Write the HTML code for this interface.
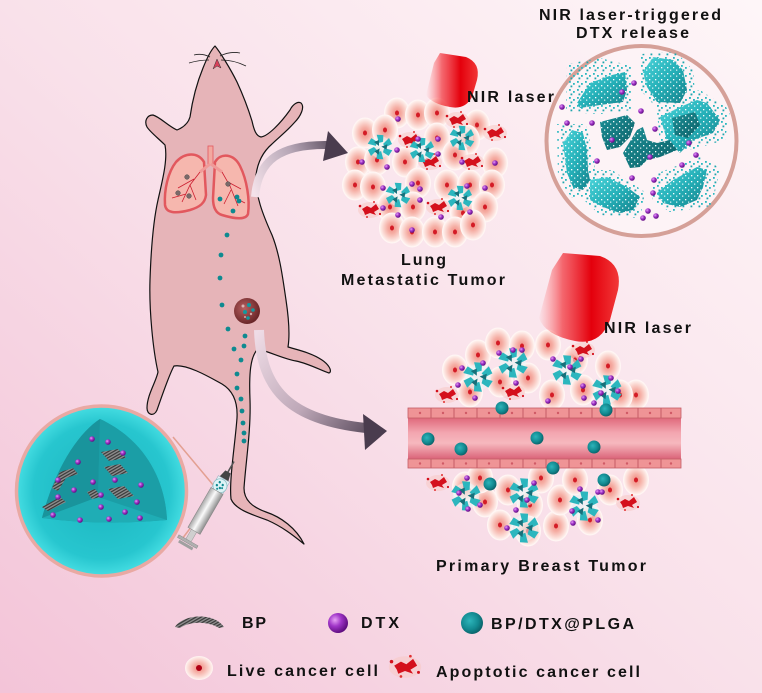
<!DOCTYPE html>
<html><head><meta charset="utf-8"><style>
html,body{margin:0;padding:0;width:762px;height:693px;overflow:hidden;background:#f8e0ea;}
svg{display:block;}
text{font-family:"Liberation Sans",Arial,sans-serif;font-weight:bold;font-size:16px;fill:#111;}
</style></head><body>
<svg width="762" height="693" viewBox="0 0 762 693" xmlns="http://www.w3.org/2000/svg" xmlns:xlink="http://www.w3.org/1999/xlink">
<defs>
 <linearGradient id="bg" x1="0" y1="1" x2="1" y2="0">
  <stop offset="0" stop-color="#f3c4d8"/>
  <stop offset="0.5" stop-color="#f9e1ea"/>
  <stop offset="1" stop-color="#fef6f8"/>
 </linearGradient>
 <radialGradient id="cellG">
  <stop offset="0" stop-color="#f08d84"/>
  <stop offset="0.35" stop-color="#f5aca2"/>
  <stop offset="0.75" stop-color="#fbdad4"/>
  <stop offset="1" stop-color="#fff6f4"/>
 </radialGradient>
 <radialGradient id="purG" cx="0.35" cy="0.35" r="0.7">
  <stop offset="0" stop-color="#e7a0f5"/>
  <stop offset="0.45" stop-color="#a035c8"/>
  <stop offset="1" stop-color="#5a0a7a"/>
 </radialGradient>
 <radialGradient id="tealG" cx="0.4" cy="0.4" r="0.65">
  <stop offset="0" stop-color="#2db4ba"/>
  <stop offset="0.6" stop-color="#128a91"/>
  <stop offset="1" stop-color="#0a5d64"/>
 </radialGradient>
 <radialGradient id="sphG" cx="0.5" cy="0.5" r="0.5">
  <stop offset="0" stop-color="#1cb4be"/>
  <stop offset="0.8" stop-color="#27c6cf"/>
  <stop offset="1" stop-color="#45dde2"/>
 </radialGradient>
 <radialGradient id="tumG" cx="0.4" cy="0.4" r="0.6">
  <stop offset="0" stop-color="#b86060"/>
  <stop offset="1" stop-color="#6a2628"/>
 </radialGradient>
 <linearGradient id="shL" x1="0" y1="0" x2="1" y2="1">
  <stop offset="0" stop-color="#4bd3d9"/>
  <stop offset="0.5" stop-color="#25b0b8"/>
  <stop offset="1" stop-color="#14808a"/>
 </linearGradient>
 <linearGradient id="shD" x1="0" y1="0" x2="1" y2="1">
  <stop offset="0" stop-color="#1b8f96"/>
  <stop offset="1" stop-color="#0d6168"/>
 </linearGradient>
 <linearGradient id="laser1" gradientUnits="userSpaceOnUse" x1="426" y1="0" x2="479" y2="0">
  <stop offset="0" stop-color="#ff5a5a" stop-opacity="0"/>
  <stop offset="0.3" stop-color="#f02028" stop-opacity="0.65"/>
  <stop offset="0.65" stop-color="#e4000c"/>
  <stop offset="1" stop-color="#f23a3a"/>
 </linearGradient>
 <linearGradient id="laser2" gradientUnits="userSpaceOnUse" x1="538" y1="0" x2="620" y2="0">
  <stop offset="0" stop-color="#ff5a5a" stop-opacity="0"/>
  <stop offset="0.3" stop-color="#f02028" stop-opacity="0.65"/>
  <stop offset="0.65" stop-color="#e4000c"/>
  <stop offset="1" stop-color="#f23a3a"/>
 </linearGradient>
 <linearGradient id="arr1" gradientUnits="userSpaceOnUse" x1="255" y1="195" x2="348" y2="150">
  <stop offset="0" stop-color="#f4e2ea"/>
  <stop offset="0.5" stop-color="#b6a6b6"/>
  <stop offset="1" stop-color="#4a3c4e"/>
 </linearGradient>
 <linearGradient id="arr2" gradientUnits="userSpaceOnUse" x1="259" y1="330" x2="387" y2="432">
  <stop offset="0" stop-color="#efdce6"/>
  <stop offset="0.5" stop-color="#bea8b8"/>
  <stop offset="1" stop-color="#4a3c4e"/>
 </linearGradient>
 <linearGradient id="vesG" x1="0" y1="0" x2="0" y2="1">
  <stop offset="0" stop-color="#e06a7c"/>
  <stop offset="0.35" stop-color="#f3a6b0"/>
  <stop offset="0.6" stop-color="#f6b8be"/>
  <stop offset="1" stop-color="#d95e74"/>
 </linearGradient>
 <linearGradient id="barrel" x1="0" y1="0" x2="1" y2="0">
  <stop offset="0" stop-color="#a8a8a8"/>
  <stop offset="0.45" stop-color="#fafafa"/>
  <stop offset="1" stop-color="#8e8e8e"/>
 </linearGradient>
 <pattern id="tsp" width="8" height="8" patternUnits="userSpaceOnUse">
  <rect x="1" y="1" width="1.8" height="1.8" fill="#2bb8c0"/>
  <rect x="5" y="3" width="1.8" height="1.8" fill="#2bb8c0"/>
  <rect x="2.5" y="5.5" width="1.8" height="1.8" fill="#1fa5ad"/>
 </pattern>
 <pattern id="wsp" width="6" height="6" patternUnits="userSpaceOnUse">
  <rect x="1" y="1" width="1.3" height="1.3" fill="#fff"/>
  <rect x="4" y="3.5" width="1.3" height="1.3" fill="#fff" opacity=".8"/>
 </pattern>
 <pattern id="hatch" width="2.6" height="2.6" patternUnits="userSpaceOnUse" patternTransform="rotate(60)">
  <rect width="2.6" height="2.6" fill="#8c8c8c"/>
  <rect width="1.2" height="2.6" fill="#3a3a3a"/>
 </pattern>
 <g id="cell"><ellipse rx="12.5" ry="15" fill="url(#cellG)" stroke="#fff6f4" stroke-width="1"/><ellipse rx="2" ry="2.5" fill="#d41c26"/></g>
 <g id="apo">
  <ellipse rx="12" ry="8" fill="#f7c8c4" opacity="0.55"/>
  <path d="M-8,-1 L-3,-4 L1,-2 L6,-6 L9,-1 L4,2 L6,5 L0,3 L-5,5 L-6,2 Z" fill="#d4101c"/>
  <circle cx="-10" cy="-4" r="1.3" fill="#d4101c"/>
  <circle cx="10" cy="4" r="1.1" fill="#d4101c"/>
  <circle cx="-3" cy="7" r="1" fill="#e03030"/>
  <circle cx="4" cy="-8" r="1" fill="#e03030"/>
 </g>
 <g id="np">
  <circle r="11" fill="#eaf7f7" opacity="0.55"/>
  <g fill="#2cb6be">
   <path d="M3,-3 L9,-9 L12,-3 L6,0 Z"/>
   <path d="M3,-3 L9,-9 L12,-3 L6,0 Z" transform="rotate(60)"/>
   <path d="M3,-3 L9,-9 L12,-3 L6,0 Z" transform="rotate(120)"/>
   <path d="M3,-3 L9,-9 L12,-3 L6,0 Z" transform="rotate(180)"/>
   <path d="M3,-3 L9,-9 L12,-3 L6,0 Z" transform="rotate(240)"/>
   <path d="M3,-3 L9,-9 L12,-3 L6,0 Z" transform="rotate(300)"/>
  </g>
  <g fill="#17707a">
   <path d="M1,-1 L5,-6 L7,-1 Z" transform="rotate(30)"/>
   <path d="M1,-1 L5,-6 L7,-1 Z" transform="rotate(150)"/>
   <path d="M1,-1 L5,-6 L7,-1 Z" transform="rotate(270)"/>
  </g>
 </g>
 <circle id="pd" r="2.8" fill="url(#purG)"/>
 <circle id="ts" r="6.5" fill="url(#tealG)"/>
</defs>

<rect width="762" height="693" fill="url(#bg)"/>

<!-- Big release circle -->
<circle cx="641.5" cy="141" r="95" fill="#fdf3f6" stroke="#d5a098" stroke-width="4"/>
<g>
 <g fill="url(#tsp)">
  <polygon points="567,64 600,58 632,66 632,110 600,114 566,112"/>
  <polygon points="641,54 676,52 693,70 696,104 655,106 640,90"/>
  <polygon points="656,100 700,90 730,110 725,140 690,150 660,145"/>
  <polygon points="557,124 586,124 595,165 594,195 572,198 558,178"/>
  <polygon points="584,170 612,170 645,192 640,218 600,215 584,200"/>
  <polygon points="653,175 700,157 720,168 712,206 670,212 652,200"/>
 </g>
 <g fill="url(#shL)">
  <polygon points="577,103 590,83 612,75 625,72 627,90 623,102 600,105 580,108"/>
  <polygon points="643,72 653,57 673,60 683,70 687,90 680,103 657,102 647,87"/>
  <polygon points="660,117 680,107 697,100 707,103 720,120 713,133 693,140 680,153 667,140"/>
  <polygon points="572,130 583,133 587,150 588,170 590,180 583,190 573,187 567,173 563,143"/>
  <polygon points="590,180 607,177 627,187 640,197 633,210 620,213 603,207 590,200"/>
  <polygon points="657,193 673,180 697,167 707,170 703,187 697,200 680,207 663,203"/>
 </g>
 <g fill="url(#shD)">
  <polygon points="600,122 627,115 635,123 630,137 620,147 607,150 602,137"/>
  <polygon points="623,153 637,130 643,127 647,140 657,143 670,140 677,150 660,157 647,160 640,167 630,168"/>
  <polygon points="672,118 695,112 700,125 688,138 675,135"/>
 </g>
 <g fill="url(#wsp)">
  <polygon points="577,103 590,83 612,75 625,72 627,90 623,102 600,105 580,108"/>
  <polygon points="643,72 653,57 673,60 683,70 687,90 680,103 657,102 647,87"/>
  <polygon points="660,117 680,107 697,100 707,103 720,120 713,133 693,140 680,153 667,140"/>
  <polygon points="572,130 583,133 587,150 588,170 590,180 583,190 573,187 567,173 563,143"/>
  <polygon points="590,180 607,177 627,187 640,197 633,210 620,213 603,207 590,200"/>
  <polygon points="657,193 673,180 697,167 707,170 703,187 697,200 680,207 663,203"/>
  <polygon points="600,122 627,115 635,123 630,137 620,147 607,150 602,137"/>
  <polygon points="623,153 637,130 643,127 647,140 657,143 670,140 677,150 660,157 647,160 640,167 630,168"/>
 </g>
 <g>
  <use href="#pd" x="634" y="83"/><use href="#pd" x="622" y="92"/><use href="#pd" x="562" y="107"/>
  <use href="#pd" x="641" y="111"/><use href="#pd" x="567" y="123"/><use href="#pd" x="592" y="123"/>
  <use href="#pd" x="655" y="129"/><use href="#pd" x="689" y="143"/><use href="#pd" x="696" y="155"/>
  <use href="#pd" x="682" y="165"/><use href="#pd" x="597" y="161"/><use href="#pd" x="650" y="157"/>
  <use href="#pd" x="632" y="178"/><use href="#pd" x="654" y="180"/><use href="#pd" x="653" y="193"/>
  <use href="#pd" x="648" y="211"/><use href="#pd" x="643" y="218"/><use href="#pd" x="656" y="216"/>
  <use href="#pd" x="612" y="140"/>
 </g>
</g>

<!-- Lung metastatic tumor cluster -->
<g>
 <use href="#cell" x="397" y="113"/><use href="#cell" x="418" y="115"/><use href="#cell" x="437" y="113"/><use href="#cell" x="477" y="125"/>
 <use href="#cell" x="365" y="133"/><use href="#cell" x="385" y="130"/><use href="#cell" x="437" y="138"/><use href="#cell" x="467" y="140"/>
 <use href="#cell" x="358" y="162"/><use href="#cell" x="377" y="160"/><use href="#cell" x="405" y="162"/><use href="#cell" x="455" y="155"/><use href="#cell" x="495" y="163"/>
 <use href="#cell" x="355" y="185"/><use href="#cell" x="373" y="187"/><use href="#cell" x="418" y="183"/><use href="#cell" x="447" y="185"/><use href="#cell" x="470" y="185"/><use href="#cell" x="492" y="185"/>
 <use href="#cell" x="390" y="207"/><use href="#cell" x="413" y="207"/><use href="#cell" x="463" y="213"/><use href="#cell" x="485" y="207"/>
 <use href="#cell" x="392" y="228"/><use href="#cell" x="412" y="232"/><use href="#cell" x="435" y="232"/><use href="#cell" x="455" y="232"/><use href="#cell" x="473" y="225"/>
 <use href="#apo" x="457" y="120"/><use href="#apo" x="495" y="133"/><use href="#apo" x="410" y="140"/>
 <use href="#apo" x="430" y="162"/><use href="#apo" x="472" y="162"/><use href="#apo" x="370" y="210"/><use href="#apo" x="438" y="207"/>
 <use href="#np" x="380" y="147"/><use href="#np" x="422" y="150"/><use href="#np" x="462" y="138"/>
 <use href="#np" x="398" y="195"/><use href="#np" x="460" y="198"/>
 <use href="#pd" x="398" y="119"/><use href="#pd" x="362" y="162"/><use href="#pd" x="387" y="167"/>
 <use href="#pd" x="397" y="150"/><use href="#pd" x="418" y="139"/><use href="#pd" x="438" y="139"/>
 <use href="#pd" x="438" y="154"/><use href="#pd" x="462" y="162"/><use href="#pd" x="495" y="163"/>
 <use href="#pd" x="383" y="188"/><use href="#pd" x="412" y="184"/><use href="#pd" x="420" y="189"/>
 <use href="#pd" x="420" y="200"/><use href="#pd" x="383" y="208"/><use href="#pd" x="398" y="215"/>
 <use href="#pd" x="441" y="217"/><use href="#pd" x="467" y="186"/><use href="#pd" x="485" y="188"/>
 <use href="#pd" x="412" y="230"/><use href="#pd" x="470" y="212"/>
</g>

<path d="M440,53 L466,57 Q481,63 477,80 L472,97 Q465,110 450,107 Q432,104 426,95 L434,63 Z" fill="url(#laser1)"/>

<!-- Breast tumor -->
<g>
 <use href="#cell" x="455" y="370"/><use href="#cell" x="478" y="355"/><use href="#cell" x="498" y="343"/>
 <use href="#cell" x="522" y="346"/><use href="#cell" x="548" y="345"/><use href="#cell" x="608" y="366"/>
 <use href="#cell" x="636" y="395"/><use href="#cell" x="470" y="392"/><use href="#cell" x="500" y="382"/>
 <use href="#cell" x="528" y="378"/><use href="#cell" x="552" y="395"/><use href="#cell" x="583" y="390"/>
 <use href="#cell" x="620" y="395"/><use href="#cell" x="575" y="360"/>
 <use href="#apo" x="447" y="395"/><use href="#apo" x="513" y="392"/><use href="#apo" x="583" y="350"/>
 <use href="#cell" x="465" y="487"/><use href="#cell" x="485" y="502"/><use href="#cell" x="508" y="490"/>
 <use href="#cell" x="530" y="505"/><use href="#cell" x="500" y="525"/><use href="#cell" x="528" y="531"/>
 <use href="#cell" x="556" y="526"/><use href="#cell" x="560" y="500"/><use href="#cell" x="575" y="480"/>
 <use href="#cell" x="590" y="520"/><use href="#cell" x="610" y="490"/><use href="#cell" x="636" y="480"/>
 <use href="#cell" x="541" y="478"/><use href="#cell" x="480" y="478"/>
 <use href="#apo" x="438" y="483"/><use href="#apo" x="628" y="503"/>
 <g transform="translate(478,377) scale(1.2)"><use href="#np"/></g>
 <g transform="translate(513,363) scale(1.2)"><use href="#np"/></g>
 <g transform="translate(567,370) scale(1.2)"><use href="#np"/></g>
 <g transform="translate(607,390) scale(1.2)"><use href="#np"/></g>
 <g transform="translate(466,496) scale(1.2)"><use href="#np"/></g>
 <g transform="translate(524,493) scale(1.2)"><use href="#np"/></g>
 <g transform="translate(584,506) scale(1.2)"><use href="#np"/></g>
 <g transform="translate(524,528) scale(1.2)"><use href="#np"/></g>
 <use href="#pd" x="462" y="368"/><use href="#pd" x="458" y="385"/><use href="#pd" x="475" y="398"/>
 <use href="#pd" x="483" y="363"/><use href="#pd" x="499" y="353"/><use href="#pd" x="513" y="350"/>
 <use href="#pd" x="522" y="350"/><use href="#pd" x="516" y="383"/><use href="#pd" x="548" y="401"/>
 <use href="#pd" x="553" y="359"/><use href="#pd" x="570" y="367"/><use href="#pd" x="581" y="359"/>
 <use href="#pd" x="583" y="386"/><use href="#pd" x="584" y="398"/><use href="#pd" x="594" y="403"/>
 <use href="#pd" x="611" y="378"/><use href="#pd" x="601" y="393"/><use href="#pd" x="618" y="391"/>
 <use href="#pd" x="467" y="478"/><use href="#pd" x="459" y="493"/><use href="#pd" x="468" y="509"/>
 <use href="#pd" x="480" y="505"/><use href="#pd" x="516" y="510"/><use href="#pd" x="534" y="483"/>
 <use href="#pd" x="527" y="500"/><use href="#pd" x="507" y="528"/><use href="#pd" x="580" y="489"/>
 <use href="#pd" x="572" y="511"/><use href="#pd" x="573" y="523"/><use href="#pd" x="598" y="492"/>
 <use href="#pd" x="602" y="492"/><use href="#pd" x="598" y="520"/>
</g>

<path d="M563,253 L600,256 Q623,264 618,290 L610,320 Q600,346 575,341 Q545,335 539,318 L552,270 Z" fill="url(#laser2)"/>

<!-- blood vessel -->
<g>
 <rect x="408" y="418" width="273" height="42" fill="url(#vesG)"/>
 <rect x="408" y="408" width="273" height="10" fill="#ef9496" stroke="#c45c66" stroke-width="0.8"/>
 <rect x="408" y="459" width="273" height="9" fill="#ef9496" stroke="#c45c66" stroke-width="0.8"/>
 <g stroke="#c45c66" stroke-width="1">
  <path d="M431,408v10M454,408v10M477,408v10M500,408v10M523,408v10M546,408v10M569,408v10M592,408v10M615,408v10M638,408v10M661,408v10"/>
  <path d="M431,459v9M454,459v9M477,459v9M500,459v9M523,459v9M546,459v9M569,459v9M592,459v9M615,459v9M638,459v9M661,459v9"/>
 </g>
 <g fill="#d05a66">
  <circle cx="420" cy="413" r="1.2"/><circle cx="443" cy="413" r="1.2"/><circle cx="466" cy="413" r="1.2"/><circle cx="489" cy="413" r="1.2"/><circle cx="512" cy="413" r="1.2"/><circle cx="535" cy="413" r="1.2"/><circle cx="558" cy="413" r="1.2"/><circle cx="581" cy="413" r="1.2"/><circle cx="604" cy="413" r="1.2"/><circle cx="627" cy="413" r="1.2"/><circle cx="650" cy="413" r="1.2"/><circle cx="671" cy="413" r="1.2"/>
  <circle cx="420" cy="463.5" r="1.2"/><circle cx="443" cy="463.5" r="1.2"/><circle cx="466" cy="463.5" r="1.2"/><circle cx="489" cy="463.5" r="1.2"/><circle cx="512" cy="463.5" r="1.2"/><circle cx="535" cy="463.5" r="1.2"/><circle cx="558" cy="463.5" r="1.2"/><circle cx="581" cy="463.5" r="1.2"/><circle cx="604" cy="463.5" r="1.2"/><circle cx="627" cy="463.5" r="1.2"/><circle cx="650" cy="463.5" r="1.2"/><circle cx="671" cy="463.5" r="1.2"/>
 </g>
 <use href="#ts" x="428" y="439"/><use href="#ts" x="461" y="449"/><use href="#ts" x="537" y="438"/><use href="#ts" x="594" y="447"/>
 <use href="#ts" x="502" y="408"/><use href="#ts" x="606" y="410"/><use href="#ts" x="553" y="468"/>
 <use href="#ts" x="490" y="484"/><use href="#ts" x="604" y="480"/>
</g>

<!-- Nanoparticle sphere -->
<g>
 <line x1="173" y1="437" x2="214" y2="486" stroke="#e3a092" stroke-width="1.5"/>
 <line x1="182" y1="539" x2="214" y2="497" stroke="#e3a092" stroke-width="1.5"/>
 <circle cx="101.5" cy="491" r="85" fill="url(#sphG)" stroke="#e9a9a3" stroke-width="3.5"/>
 <path d="M100,419 C80,432 56,465 42,518 Q100,526 167,520 C165,480 145,440 100,419 Z" fill="#1a9ea6"/>
 <path d="M100,419 L98,497 L42,518 C56,465 80,432 100,419 Z" fill="#19949c"/>
 <path d="M100,419 L98,497 L167,520 C165,480 145,440 100,419 Z" fill="#1b9ea6"/>
 <path d="M42,518 L98,497 L167,520 Q100,526 42,518 Z" fill="#1fadb5"/>
 <g fill="url(#hatch)">
  <polygon points="101,452 118,449 126,458 109,461"/>
  <polygon points="104,467 120,464 128,473 112,476"/>
  <polygon points="108,489 124,486 134,496 118,499"/>
  <polygon points="52,488 60,472 73,468 78,474 66,478 58,491"/>
  <polygon points="42,507 60,497 66,502 48,511"/>
  <polygon points="87,492 95,489 101,497 92,499"/>
 </g>
 <g>
  <use href="#pd" x="92" y="439"/><use href="#pd" x="108" y="442"/><use href="#pd" x="123" y="453"/>
  <use href="#pd" x="78" y="462"/><use href="#pd" x="58" y="480"/><use href="#pd" x="93" y="482"/>
  <use href="#pd" x="115" y="480"/><use href="#pd" x="141" y="485"/><use href="#pd" x="74" y="490"/>
  <use href="#pd" x="58" y="497"/><use href="#pd" x="101" y="495"/><use href="#pd" x="137" y="502"/>
  <use href="#pd" x="101" y="507"/><use href="#pd" x="125" y="512"/><use href="#pd" x="53" y="515"/>
  <use href="#pd" x="80" y="520"/><use href="#pd" x="109" y="519"/><use href="#pd" x="140" y="518"/>
 </g>
</g>

<!-- Mouse -->
<path d="M215,46 C220,52 230,68 237,82 C243,95 248,108 252,121 C254,130 256,136 261,137 C268,136 280,124 290,110 C293,104 298,101 301,103 C305,107 301,116 294,123 C286,132 278,138 272,144 C265,150 258,160 256,175 C255,195 263,215 272,235 C280,255 283,280 286,300 C289,320 290,335 288,347 C298,350 312,353 322,360 C328,364 333,371 329,373 C322,371 310,364 296,361 C284,359 270,352 258,349 C250,356 249,375 250,400 C251,430 246,460 244,488 C244,500 252,507 266,512 C281,517 296,528 304,544 C294,536 283,527 267,520 C250,514 235,509 231,499 C229,480 235,445 237,418 C238,400 232,390 222,384 C206,375 186,364 174,366 C169,375 163,393 157,410 C154,417 147,415 147,408 C147,395 156,382 158,372 C153,350 149,310 150,280 C151,250 153,222 158,200 C162,182 168,160 165,145 C158,138 150,132 147,127 C144,121 147,115 153,115 C160,117 168,126 177,130 C182,128 188,124 190,117 C192,103 196,85 203,68 C207,58 211,50 215,46 Z" fill="#e6b4b8" stroke="#111" stroke-width="1.2" stroke-linejoin="round"/>
<g fill="none" stroke="#222" stroke-width="0.8">
 <path d="M210,57 Q202,53 194,55"/><path d="M209,60 Q199,60 189,63"/>
 <path d="M220,56 Q230,51 240,53"/><path d="M221,60 Q234,60 246,66"/>
</g>
<polygon points="213,69 217,59 221,68 217,66" fill="#d8405a" stroke="#333" stroke-width="0.5"/>
<g>
 <path d="M204,162 C198,152 185,152 176,162 C168,172 164,190 165,205 C166,213 175,214 190,210 C200,207 205,203 206,195 Z" fill="#f6b7ae" stroke="#e2585e" stroke-width="2.5"/>
 <path d="M215,162 C221,152 234,154 240,166 C247,180 250,200 248,214 C246,220 235,219 222,215 C215,213 213,206 213,198 Z" fill="#f6b7ae" stroke="#e2585e" stroke-width="2.5"/>
 <rect x="208" y="146" width="5" height="19" fill="#f3a8a0" stroke="#e2585e" stroke-width="0.8"/>
 <path d="M210,164 L200,172 M211,164 L222,172" stroke="#f09a98" stroke-width="3" fill="none"/>
 <g stroke="#cc1f30" stroke-width="0.8" fill="none">
  <path d="M200,172 L190,185 L182,202 M194,179 L178,188 M190,185 L196,200 M186,194 L172,198"/>
  <path d="M222,172 L230,186 L238,206 M228,182 L241,189 M231,190 L224,204 M235,198 L245,203"/>
 </g>
 <g fill="#7a6a6a" stroke="#444" stroke-width="0.5">
  <circle cx="187" cy="177" r="2.3"/><circle cx="178" cy="193" r="2.3"/><circle cx="189" cy="196" r="2.3"/><circle cx="228" cy="184" r="2.3"/>
 </g>
</g>
<circle cx="247" cy="311" r="13" fill="url(#tumG)"/>
<g fill="#f0d8d8" opacity="0.7"><circle cx="243" cy="306" r="1.5"/><circle cx="251" cy="314" r="1.2"/><circle cx="245" cy="317" r="1"/></g>
<g fill="#12999f"><circle cx="249" cy="305" r="2"/><circle cx="245" cy="312" r="2"/><circle cx="253" cy="310" r="1.8"/><circle cx="248" cy="318" r="1.8"/></g>
<g fill="#0e8a90">
 <circle cx="220" cy="199" r="2.4"/><circle cx="233" cy="211" r="2.4"/><circle cx="237" cy="197" r="2.4"/><circle cx="239" cy="201" r="2.4"/>
 <circle cx="227" cy="235" r="2.4"/><circle cx="221" cy="255" r="2.4"/><circle cx="220" cy="278" r="2.4"/><circle cx="222" cy="305" r="2.4"/>
 <circle cx="228" cy="329" r="2.4"/><circle cx="245" cy="336" r="2.4"/><circle cx="244" cy="346" r="2.4"/><circle cx="234" cy="349" r="2.4"/>
 <circle cx="241" cy="360" r="2.4"/><circle cx="237" cy="374" r="2.4"/><circle cx="237" cy="388" r="2.4"/><circle cx="241" cy="399" r="2.4"/>
 <circle cx="242" cy="411" r="2.4"/><circle cx="243" cy="423" r="2.4"/><circle cx="244" cy="433" r="2.4"/><circle cx="244" cy="441" r="2.4"/>
</g>

<!-- syringe -->
<g transform="translate(232,465) rotate(30)">
 <rect x="-0.8" y="-4" width="1.6" height="13" fill="#555"/>
 <path d="M-3,8 L3,8 L5,16 L-5,16 Z" fill="#444"/>
 <rect x="-6.5" y="16" width="13" height="14" fill="#e4f2f5" stroke="#9ab" stroke-width="0.5"/>
 <circle cx="0" cy="24" r="7" fill="#def3f6" stroke="#8cbfc6" stroke-width="0.8"/>
 <g fill="#128a92"><circle cx="-2" cy="21" r="1.2"/><circle cx="2" cy="22" r="1.2"/><circle cx="-3" cy="25" r="1.2"/><circle cx="1" cy="26" r="1.2"/><circle cx="3" cy="25" r="1"/><circle cx="-1" cy="28" r="1"/></g>
 <rect x="-7" y="30" width="14" height="46" fill="url(#barrel)" stroke="#888" stroke-width="0.6"/>
 <rect x="-3" y="76" width="6" height="12" fill="#cfcfcf" stroke="#999" stroke-width="0.5"/>
 <rect x="-11" y="87" width="22" height="3" fill="#b0b0b0" stroke="#888" stroke-width="0.5"/>
 <rect x="-8" y="91" width="16" height="3" fill="#a0a0a0"/>
</g>

<!-- arrows -->
<path d="M255,197 C258,160 280,144 329,145" fill="none" stroke="url(#arr1)" stroke-width="8"/>
<polygon points="328,131 348,153 323,161" fill="#4a3c4e"/>
<path d="M259,330 C261,390 290,420 366,428" fill="none" stroke="url(#arr2)" stroke-width="10"/>
<polygon points="363,414 387,431 365,450" fill="#4a3c4e"/>

<!-- Legend -->
<path d="M175,627 C183,614 214,612 224,627 L219,628 C208,621 190,621 180,628 Z" fill="url(#hatch)"/>
<circle cx="338" cy="623" r="10" fill="url(#purG)"/>
<circle cx="472" cy="623" r="11" fill="url(#tealG)"/>
<g transform="translate(199,668)"><ellipse rx="14" ry="12" fill="url(#cellG)"/><circle r="3" fill="#b00014"/></g>
<g transform="translate(405,667) scale(1.35)"><use href="#apo"/></g>

<!-- Text -->
<text x="539" y="20" textLength="182" lengthAdjust="spacing">NIR laser-triggered</text>
<text x="576" y="38" textLength="113" lengthAdjust="spacing">DTX release</text>
<text x="467" y="102" textLength="87" lengthAdjust="spacing">NIR laser</text>
<text x="401" y="265" textLength="45" lengthAdjust="spacing">Lung</text>
<text x="341" y="285" textLength="164" lengthAdjust="spacing">Metastatic Tumor</text>
<text x="604" y="333" textLength="87" lengthAdjust="spacing">NIR laser</text>
<text x="436" y="571" textLength="210" lengthAdjust="spacing">Primary Breast Tumor</text>
<text x="242" y="628" textLength="24" lengthAdjust="spacing">BP</text>
<text x="361" y="628" textLength="38" lengthAdjust="spacing">DTX</text>
<text x="491" y="629" textLength="143" lengthAdjust="spacing">BP/DTX@PLGA</text>
<text x="227" y="676" textLength="151" lengthAdjust="spacing">Live cancer cell</text>
<text x="436" y="677" textLength="204" lengthAdjust="spacing">Apoptotic cancer cell</text>
</svg>
</body></html>
